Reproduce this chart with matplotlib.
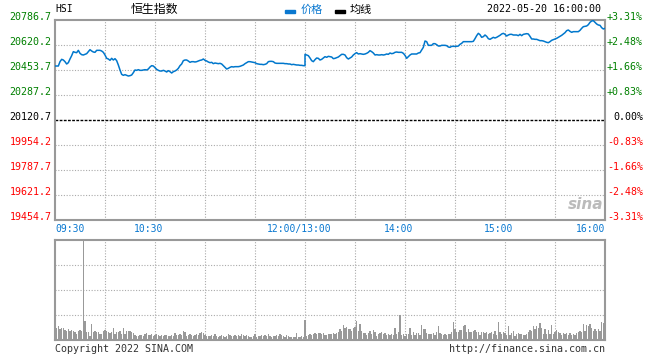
import matplotlib
matplotlib.use("Agg")
import matplotlib.pyplot as plt
from matplotlib.transforms import ScaledTranslation

# HSI intraday, 2022-05-20 (one point per minute)
prev_close = 20120.7

am_price = [  # 09:30 - 12:00
    20480.3, 20480.3, 20480.3, 20509.2, 20524.7, 20520.3, 20509.2, 20493.7, 20502.5, 20527.0,
    20549.2, 20575.8, 20571.4, 20569.1, 20584.7, 20564.7, 20555.8, 20553.6, 20558.0, 20562.5,
    20575.8, 20589.1, 20580.2, 20573.6, 20571.4, 20584.7, 20584.7, 20584.7, 20580.2, 20571.4,
    20553.6, 20531.4, 20527.0, 20518.1, 20531.4, 20520.3, 20529.2, 20515.9, 20487.0, 20453.7,
    20424.8, 20418.2, 20422.6, 20418.2, 20413.7, 20416.0, 20420.4, 20435.9, 20453.7, 20451.5,
    20455.9, 20451.5, 20451.5, 20453.7, 20455.9, 20453.7, 20460.4, 20473.7, 20482.6, 20480.3,
    20469.2, 20458.1, 20451.5, 20447.0, 20447.0, 20451.5, 20447.0, 20440.4, 20449.3, 20442.6,
    20433.7, 20442.6, 20447.0, 20453.7, 20464.8, 20482.6, 20493.7, 20515.9, 20520.3, 20520.3,
    20513.6, 20504.8, 20509.2, 20509.2, 20507.0, 20509.2, 20513.6, 20518.1, 20520.3, 20527.0,
    20518.1, 20513.6, 20507.0, 20502.5, 20504.8, 20495.9, 20500.3, 20498.1, 20495.9, 20498.1,
    20493.7, 20482.6, 20471.5, 20460.4, 20464.8, 20471.5, 20475.9, 20473.7, 20475.9, 20475.9,
    20475.9, 20478.1, 20482.6, 20487.0, 20495.9, 20502.5, 20509.2, 20509.2, 20507.0, 20504.8,
    20502.5, 20495.9, 20493.7, 20491.4, 20491.4, 20489.2, 20491.4, 20495.9, 20509.2, 20511.4,
    20511.4, 20509.2, 20500.3, 20498.1, 20498.1, 20498.1, 20498.1, 20498.1, 20495.9, 20495.9,
    20493.7, 20493.7, 20489.2, 20491.4, 20489.2, 20487.0, 20487.0, 20484.8, 20484.8, 20482.6,
    20482.6,
]

pm_price = [  # 13:00 - 16:00
    20558.0, 20553.6, 20549.2, 20533.6, 20515.9, 20509.2, 20522.5, 20533.6, 20531.4, 20520.3,
    20524.7, 20533.6, 20542.5, 20538.1, 20544.7, 20542.5, 20540.3, 20529.2, 20531.4, 20535.8,
    20540.3, 20549.2, 20558.0, 20558.0, 20553.6, 20535.8, 20527.0, 20533.6, 20540.3, 20553.6,
    20562.5, 20569.1, 20560.3, 20562.5, 20560.3, 20558.0, 20560.3, 20564.7, 20571.4, 20582.5,
    20575.8, 20566.9, 20553.6, 20555.8, 20553.6, 20553.6, 20555.8, 20553.6, 20555.8, 20560.3,
    20558.0, 20566.9, 20562.5, 20564.7, 20571.4, 20573.6, 20571.4, 20571.4, 20571.4, 20564.7,
    20551.4, 20531.4, 20542.5, 20553.6, 20560.3, 20560.3, 20560.3, 20560.3, 20566.9, 20569.1,
    20586.9, 20604.7, 20646.8, 20642.4, 20618.0, 20618.0, 20618.0, 20629.1, 20629.1, 20622.4,
    20613.5, 20613.5, 20618.0, 20618.0, 20618.0, 20615.8, 20606.9, 20604.7, 20611.3, 20611.3,
    20611.3, 20611.3, 20613.5, 20624.6, 20631.3, 20642.4, 20642.4, 20642.4, 20642.4, 20642.4,
    20642.4, 20644.6, 20662.4, 20682.4, 20697.9, 20689.0, 20671.3, 20675.7, 20686.8, 20677.9,
    20662.4, 20657.9, 20664.6, 20671.3, 20666.8, 20671.3, 20677.9, 20684.6, 20693.5, 20697.9,
    20691.2, 20680.1, 20686.8, 20691.2, 20691.2, 20686.8, 20686.8, 20686.8, 20682.4, 20691.2,
    20682.4, 20691.2, 20693.5, 20695.7, 20693.5, 20677.9, 20660.2, 20660.2, 20657.9, 20657.9,
    20653.5, 20649.1, 20649.1, 20646.8, 20642.4, 20638.0, 20635.7, 20642.4, 20651.3, 20655.7,
    20660.2, 20664.6, 20671.3, 20677.9, 20684.6, 20693.5, 20702.3, 20715.7, 20720.1, 20711.2,
    20704.6, 20709.0, 20709.0, 20709.0, 20709.0, 20717.9, 20731.2, 20742.3, 20744.5, 20746.7,
    20755.6, 20771.2, 20780.0, 20782.3, 20771.2, 20760.1, 20753.4, 20751.2, 20735.6, 20726.8,
    20731.2,
]

# volume per minute, panel scale 0-100 (12:00 and 13:00 share one slot)
volume = [
    15, 12, 14, 11, 12, 12, 10, 9, 11, 9,
    10, 9, 8, 6, 9, 10, 9, 140, 19, 8,
    8, 4, 16, 8, 9, 8, 8, 6, 6, 9,
    10, 9, 8, 7, 8, 12, 6, 8, 8, 9,
    6, 12, 6, 9, 9, 9, 8, 7, 5, 4,
    4, 5, 5, 4, 6, 7, 5, 5, 6, 4,
    5, 6, 5, 4, 5, 4, 5, 5, 4, 4,
    5, 4, 7, 5, 5, 6, 5, 9, 8, 4,
    5, 6, 5, 4, 5, 6, 5, 7, 8, 7,
    5, 4, 4, 4, 5, 4, 6, 4, 3, 4,
    5, 4, 3, 4, 6, 5, 4, 4, 5, 4,
    5, 4, 6, 5, 4, 5, 4, 3, 3, 4,
    6, 3, 4, 4, 5, 4, 5, 4, 6, 4,
    3, 4, 4, 5, 4, 6, 5, 4, 3, 5,
    4, 3, 3, 3, 3, 7, 3, 3, 4, 3,
    20,
    4, 5, 6, 5, 6, 7, 6, 7, 7, 6, 7, 5, 5, 6,
    6, 6, 7, 6, 7, 8, 11, 9, 15, 12,
    13, 11, 11, 9, 12, 13, 19, 9, 16, 9,
    7, 7, 5, 7, 9, 6, 10, 8, 4, 6,
    7, 8, 6, 7, 5, 6, 5, 6, 5, 12,
    6, 8, 25, 5, 6, 4, 6, 6, 12, 5,
    8, 5, 7, 7, 5, 15, 11, 11, 7, 6,
    6, 6, 7, 5, 8, 14, 7, 6, 5, 6,
    5, 6, 6, 8, 18, 11, 8, 8, 10, 10,
    14, 15, 8, 11, 8, 8, 9, 10, 8, 8,
    5, 8, 8, 7, 8, 6, 7, 8, 6, 9,
    5, 18, 8, 6, 8, 7, 5, 14, 5, 7,
    9, 4, 6, 7, 6, 6, 5, 5, 6, 8,
    10, 9, 14, 11, 14, 12, 17, 12, 6, 11,
    6, 10, 6, 15, 6, 8, 10, 8, 7, 5,
    7, 6, 7, 5, 7, 5, 6, 5, 7, 8,
    9, 8, 16, 9, 15, 14, 16, 12, 9, 11,
    9, 11, 9, 18, 17, 18,
]

price_ticks = [19454.7, 19621.2, 19787.7, 19954.2, 20120.7,
               20287.2, 20453.7, 20620.2, 20786.7]
pct_labels = ["-3.31%", "-2.48%", "-1.66%", "-0.83%", "0.00%",
              "+0.83%", "+1.66%", "+2.48%", "+3.31%"]
time_ticks = [0, 60, 150, 210, 270, 330]
time_labels = ["09:30", "10:30", "12:00/13:00", "14:00", "15:00", "16:00"]

W, H = 660, 360
MONO = "DejaVu Sans Mono"
CJK = ["Noto Sans CJK SC", "DejaVu Sans"]
BLUE = "#0a78d0"
GREEN = "#008000"
RED = "#ff0000"
FRAME = "#999999"
GRID = "#aaaaaa"


def fx(x):
    return x / W


def fy(y):
    return 1 - y / H


def level_color(v):
    if abs(v - prev_close) < 0.05:
        return "black"
    return GREEN if v > prev_close else RED


def style_panel(a):
    for s in a.spines.values():
        s.set_color(FRAME)
        s.set_linewidth(1.5)
    a.tick_params(length=0)
    for t in range(30, 330, 30):
        a.axvline(t, color=GRID, lw=0.8, ls=(0, (1, 1.5)), zorder=0)
    a.set_xlim(0, 330)


fig = plt.figure(figsize=(W / 100, H / 100), dpi=100)
ax = fig.add_axes([fx(55), fy(220), 550 / W, 200 / H])
vax = fig.add_axes([fx(55), fy(340), 550 / W, 100 / H])

# price panel
style_panel(ax)
ax.set_ylim(price_ticks[0], price_ticks[-1])
for v in price_ticks[1:-1]:
    if abs(v - prev_close) < 0.05:
        ax.axhline(v, color="black", lw=1, ls=(0, (2, 1)), zorder=1)
    else:
        ax.axhline(v, color=GRID, lw=0.8, ls=(0, (1, 1.5)), zorder=0)

xs = list(range(len(am_price))) + [150 + j for j in range(len(pm_price))]
ax.plot(xs, am_price + pm_price, color="#0077cc", lw=1.1, zorder=3)

ax.set_xticks([])
ax.set_yticks(price_ticks, labels=[f"{v:.1f}" for v in price_ticks])
ax.tick_params(axis="y", pad=2.5)
for lab, v in zip(ax.get_yticklabels(), price_ticks):
    lab.set_fontfamily(MONO)
    lab.set_fontsize(7.2)
    lab.set_color(level_color(v))
    lab.set_verticalalignment("baseline")

ytrans = ax.get_yaxis_transform()
for v, s in zip(price_ticks, pct_labels):
    ax.text(1 + 38 / 550, v, s, transform=ytrans, ha="right", va="baseline",
            fontfamily=MONO, fontsize=7.2, color=level_color(v))

for i, (t, s) in enumerate(zip(time_ticks, time_labels)):
    if i == 0:
        ha, dx = "left", 0
    elif i == len(time_ticks) - 1:
        ha, dx = "right", 0
    else:
        ha, dx = "center", -6
    tr = ax.get_xaxis_transform() + ScaledTranslation(dx / 100, -4 / 100, fig.dpi_scale_trans)
    ax.text(t, 0, s, transform=tr, ha=ha, va="top", fontfamily=MONO,
            fontsize=7, color=BLUE)

# watermark, placed in axes fraction
ax.text(0.965, 0.08, "sina", transform=ax.transAxes, ha="center", va="center",
        fontsize=11, style="italic", weight="bold", color="#bbbbbb", zorder=2)

# volume panel
style_panel(vax)
vax.set_ylim(0, 100)
for v in (25, 50, 75):
    vax.axhline(v, color=GRID, lw=0.8, ls=(0, (1, 1.5)), zorder=0)
vax.bar(range(len(volume)), volume, width=0.7, color="#999999", zorder=2)
vax.set_xticks([])
vax.set_yticks([])

# header
fig.text(fx(55), fy(9), "HSI", ha="left", va="center", fontfamily=MONO, fontsize=7)
fig.text(fx(131), fy(9.5), "恒生指数", ha="left", va="center", family=CJK, fontsize=8.6)
fig.patches.append(plt.Rectangle((fx(285), fy(12.5)), 10 / W, 3 / H,
                                 transform=fig.transFigure, color=BLUE))
fig.text(fx(301), fy(9.5), "价格", ha="left", va="center", family=CJK,
         fontsize=8, color=BLUE)
fig.patches.append(plt.Rectangle((fx(335), fy(12.5)), 10 / W, 3 / H,
                                 transform=fig.transFigure, color="black"))
fig.text(fx(350), fy(9.5), "均线", ha="left", va="center", family=CJK, fontsize=8)
fig.text(fx(601), fy(9), "2022-05-20 16:00:00", ha="right", va="center",
         fontfamily=MONO, fontsize=7.2)

# footer
fig.text(fx(55), fy(349), "Copyright 2022 SINA.COM", ha="left", va="center",
         fontfamily=MONO, fontsize=7.2, color="#333333")
fig.text(fx(605), fy(349), "http://finance.sina.com.cn", ha="right", va="center",
         fontfamily=MONO, fontsize=7.2, color="#333333")

fig.savefig("out.png", dpi=100)
